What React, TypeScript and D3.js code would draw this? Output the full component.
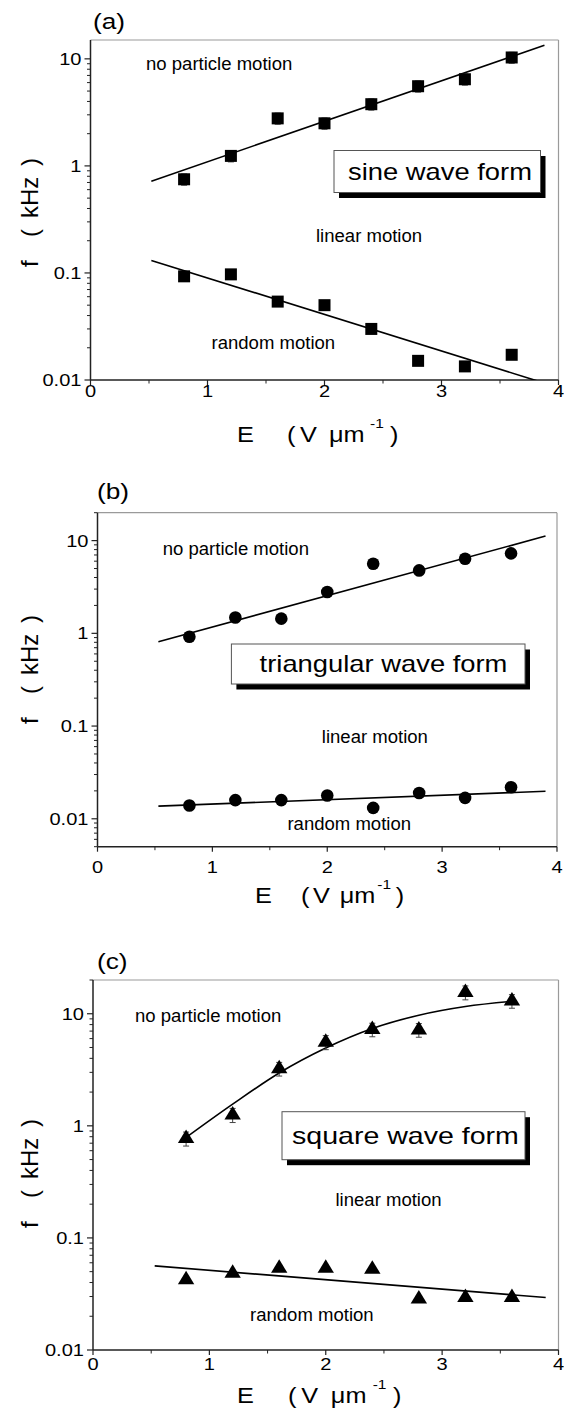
import React from 'react';
import * as d3 from 'd3';

// ---------- data ----------
const fieldE = [0.8, 1.2, 1.6, 2.0, 2.4, 2.8, 3.2, 3.6];

const sineUpper = [0.75, 1.24, 2.78, 2.5, 3.77, 5.55, 6.45, 10.3];
const sineUpperErr = [0.09, 0.15, 0.33, 0.3, 0.45, 0.66, 0.77, 1.2];
const sineLower = [0.093, 0.097, 0.054, 0.05, 0.03, 0.0151, 0.0134, 0.0172];
const sineFitUpper: [number, number][] = [[0.52, 0.72], [3.88, 13.4]];
const sineFitLower: [number, number][] = [[0.52, 0.131], [3.9, 0.0092]];

const triUpper = [0.92, 1.48, 1.44, 2.79, 5.64, 4.77, 6.38, 7.28];
const triLower = [0.0139, 0.0159, 0.0159, 0.0178, 0.0131, 0.019, 0.0168, 0.0219];
const triFitUpper: [number, number][] = [[0.53, 0.81], [3.9, 11.2]];
const triFitLower: [number, number][] = [[0.53, 0.0137], [3.9, 0.0198]];

const sqUpper = [0.77, 1.25, 3.23, 5.58, 7.23, 7.17, 15.5, 13.0];
const sqUpperErr = [0.11, 0.18, 0.45, 0.8, 1.0, 1.0, 2.2, 1.8];
const sqLower = [0.0424, 0.0483, 0.0535, 0.0535, 0.0526, 0.0285, 0.0294, 0.0294];
const sqFitUpper: [number, number][] = [
  [0.78, 0.76], [1.2, 1.56], [1.6, 2.96], [2.0, 4.94], [2.4, 7.38],
  [2.8, 9.7], [3.2, 11.6], [3.6, 12.9],
];
const sqFitLower: [number, number][] = [[0.53, 0.0563], [3.89, 0.0294]];

const xMajorTicks = [0, 1, 2, 3, 4];
const xMinorTicks = [0.5, 1.5, 2.5, 3.5];
const regionLabels = ['no particle motion', 'linear motion', 'random motion'];
const waveNames = ['sine wave form', 'triangular wave form', 'square wave form'];
const panelLetters = ['(a)', '(b)', '(c)'];

// ---------- layout ----------
const FONT = "'Liberation Sans', Arial, Helvetica, sans-serif";

type Panel = {
  letter: string; letterPos: [number, number];
  xr: [number, number]; yr: [number, number]; yDomain: [number, number];
  upper: number[]; upperErr?: number[]; lower: number[];
  fitU: [number, number][]; fitL: [number, number][]; curved?: boolean;
  marker: 'square' | 'circle' | 'triangle';
  regionPos: [number, number][];
  legend: { name: string; box: [number, number, number, number]; tx: number; ty: number; size: number };
  xLabelOff: number; xTitle: [number, number]; xSpread: number; yTitleStart: number;
};

const panels: Panel[] = [
  {
    letter: panelLetters[0], letterPos: [93, 29],
    xr: [90.5, 558.5], yr: [380, 40], yDomain: [0.01, 15],
    upper: sineUpper, upperErr: sineUpperErr, lower: sineLower,
    fitU: sineFitUpper, fitL: sineFitLower, marker: 'square',
    regionPos: [[146, 70], [316, 242], [211.5, 349]],
    legend: { name: waveNames[0], box: [334, 150.5, 206.5, 42], tx: 348, ty: 179.5, size: 23 },
    xLabelOff: 17, xTitle: [237, 441.7], xSpread: 1, yTitleStart: 267,
  },
  {
    letter: panelLetters[1], letterPos: [97, 499],
    xr: [97.5, 557], yr: [846.7, 512.7], yDomain: [0.005, 20],
    upper: triUpper, lower: triLower,
    fitU: triFitUpper, fitL: triFitLower, marker: 'circle',
    regionPos: [[162.7, 555], [321.8, 742.7], [287.4, 830]],
    legend: { name: waveNames[1], box: [231.4, 644, 293.6, 40], tx: 259.6, ty: 672, size: 23 },
    xLabelOff: 26.5, xTitle: [255, 903.3], xSpread: 0.92, yTitleStart: 724,
  },
  {
    letter: panelLetters[2], letterPos: [97, 969],
    xr: [93, 558.5], yr: [1350, 980], yDomain: [0.01, 20],
    upper: sqUpper, upperErr: sqUpperErr, lower: sqLower,
    fitU: sqFitUpper, fitL: sqFitLower, curved: true, marker: 'triangle',
    regionPos: [[135, 1021.7], [335.5, 1206], [250, 1320.7]],
    legend: { name: waveNames[2], box: [282, 1111.7, 243, 48], tx: 292, ty: 1144, size: 24 },
    xLabelOff: 19.5, xTitle: [237, 1403.3], xSpread: 1.02, yTitleStart: 1228,
  },
];

function T({ x, y, size, sx = 1, anchor = 'start', children }: any) {
  return (
    <text
      transform={`translate(${x},${y}) scale(${sx},1)`}
      fontSize={size}
      textAnchor={anchor}
      fontFamily={FONT}
      fill="#000"
    >
      {children}
    </text>
  );
}

function Marker({ kind, x, y }: { kind: string; x: number; y: number }) {
  if (kind === 'square') return <rect x={x - 6} y={y - 6} width={12} height={12} fill="#000" />;
  if (kind === 'circle') return <circle cx={x} cy={y} r={6.3} fill="#000" />;
  const p = d3.path();
  p.moveTo(x, y - 9);
  p.lineTo(x + 8.2, y + 4.5);
  p.lineTo(x - 8.2, y + 4.5);
  p.closePath();
  return <path d={p.toString()} fill="#000" />;
}

function PanelView({ p, idx }: { p: Panel; idx: number }) {
  const xs = d3.scaleLinear().domain([0, 4]).range(p.xr);
  const ys = d3.scaleLog().domain(p.yDomain).range(p.yr);
  const [xa, xb] = p.xr;
  const [yb, yt] = p.yr;
  const lo = Math.floor(Math.log10(p.yDomain[0]));
  const hi = Math.ceil(Math.log10(p.yDomain[1]));
  const majors: number[] = [];
  const minors: number[] = [];
  for (let e = lo; e <= hi; e++) {
    for (let k = 1; k <= 9; k++) {
      const v = k * Math.pow(10, e);
      if (v < p.yDomain[0] * 0.999 || v > p.yDomain[1] * 1.001) continue;
      if (k === 1) majors.push(v);
      else minors.push(v);
    }
  }
  const fmt = (v: number) => (v >= 1 ? String(Math.round(v)) : String(+v.toPrecision(1)));
  const line = d3.line<[number, number]>()
    .x((d) => xs(d[0]))
    .y((d) => ys(d[1]));
  const curveLine = d3.line<[number, number]>()
    .x((d) => xs(d[0]))
    .y((d) => ys(d[1]))
    .curve(d3.curveMonotoneX);
  const clipId = `clip${idx}`;
  const s = p.xSpread;
  const [tx0, tby] = p.xTitle;
  const lg = p.legend;

  return (
    <g>
      <defs>
        <clipPath id={clipId}>
          <rect x={xa} y={yt} width={xb - xa} height={yb - yt} />
        </clipPath>
      </defs>
      {/* frame */}
      <line x1={xa} x2={xb} y1={yt} y2={yt} stroke="#9a9a9a" strokeWidth={1.2} />
      <line x1={xb} x2={xb} y1={yt} y2={yb} stroke="#9a9a9a" strokeWidth={1.2} />
      <line x1={xa} x2={xb} y1={yb} y2={yb} stroke="#222" strokeWidth={1.5} />
      <line x1={xa} x2={xa} y1={yt} y2={yb} stroke="#222" strokeWidth={1.5} />
      {/* y ticks */}
      {majors.map((v) => (
        <g key={'M' + v}>
          <line x1={xa - 6} x2={xa} y1={ys(v)} y2={ys(v)} stroke="#222" strokeWidth={1.2} />
          <T x={xa - 9} y={ys(v) + 6} size={17} sx={1.18} anchor="end">{fmt(v)}</T>
        </g>
      ))}
      {minors.map((v) => (
        <line key={'m' + v} x1={xa - 3.5} x2={xa} y1={ys(v)} y2={ys(v)} stroke="#222" strokeWidth={1} />
      ))}
      {/* x ticks */}
      {xMajorTicks.map((v) => (
        <g key={'X' + v}>
          <line x1={xs(v)} x2={xs(v)} y1={yb} y2={yb + 5} stroke="#222" strokeWidth={1.2} />
          <T x={xs(v)} y={yb + p.xLabelOff} size={17} sx={1.18} anchor="middle">{String(v)}</T>
        </g>
      ))}
      {xMinorTicks.map((v) => (
        <line key={'x' + v} x1={xs(v)} x2={xs(v)} y1={yb} y2={yb + 3.5} stroke="#222" strokeWidth={1} />
      ))}
      {/* region labels */}
      {regionLabels.map((t, i) => (
        <T key={t} x={p.regionPos[i][0]} y={p.regionPos[i][1]} size={17.5} sx={1.06}>{t}</T>
      ))}
      {/* legend box */}
      <rect x={lg.box[0] + 5} y={lg.box[1] + 5.5} width={lg.box[2]} height={lg.box[3]} fill="#000" />
      <rect x={lg.box[0]} y={lg.box[1]} width={lg.box[2]} height={lg.box[3]} fill="#fff" stroke="#555" strokeWidth={1} />
      <T x={lg.tx} y={lg.ty} size={lg.size} sx={1.19}>{lg.name}</T>
      {/* fits */}
      <g clipPath={`url(#${clipId})`}>
        <path d={(p.curved ? curveLine : line)(p.fitU) || ''} fill="none" stroke="#000" strokeWidth={1.6} />
        <path d={line(p.fitL) || ''} fill="none" stroke="#000" strokeWidth={1.6} />
      </g>
      {/* error bars */}
      {p.upperErr && fieldE.map((e, i) => {
        const v = p.upper[i];
        const er = p.upperErr![i];
        const x = xs(e);
        return (
          <g key={'e' + i} stroke="#444" strokeWidth={1}>
            <line x1={x} x2={x} y1={ys(v - er)} y2={ys(v + er)} />
            <line x1={x - 3} x2={x + 3} y1={ys(v - er)} y2={ys(v - er)} />
            <line x1={x - 3} x2={x + 3} y1={ys(v + er)} y2={ys(v + er)} />
          </g>
        );
      })}
      {/* markers */}
      {fieldE.map((e, i) => <Marker key={'u' + i} kind={p.marker} x={xs(e)} y={ys(p.upper[i])} />)}
      {fieldE.map((e, i) => <Marker key={'l' + i} kind={p.marker} x={xs(e)} y={ys(p.lower[i])} />)}
      {/* panel letter */}
      <T x={p.letterPos[0]} y={p.letterPos[1]} size={21.5} sx={1.22}>{p.letter}</T>
      {/* x title */}
      <T x={tx0} y={tby} size={22} sx={1.15}>E</T>
      <T x={tx0 + 50 * s} y={tby} size={22} sx={1.15}>(</T>
      <T x={tx0 + 63 * s} y={tby} size={22} sx={1.15}>V</T>
      <T x={tx0 + 92 * s} y={tby} size={22} sx={1.15}>μm</T>
      <T x={tx0 + 133 * s} y={tby - 14} size={13.5} sx={1.15}>-1</T>
      <T x={tx0 + 153 * s} y={tby} size={22} sx={1.15}>)</T>
      {/* y title */}
      <g transform={`translate(38,${p.yTitleStart}) rotate(-90)`} fontFamily={FONT} fontSize={24} fill="#000">
        <text x={0} y={0}>f</text>
        <text x={30} y={0}>(</text>
        <text x={49} y={0}>kHz</text>
        <text x={101} y={0}>)</text>
      </g>
    </g>
  );
}

export default function App() {
  return (
    <svg
      width={564}
      height={1414}
      style={{ position: 'absolute', left: 0, top: 0, background: '#fff' }}
    >
      <rect x={0} y={0} width={564} height={1414} fill="#fff" />
      {panels.map((p, i) => <PanelView key={i} p={p} idx={i} />)}
    </svg>
  );
}
